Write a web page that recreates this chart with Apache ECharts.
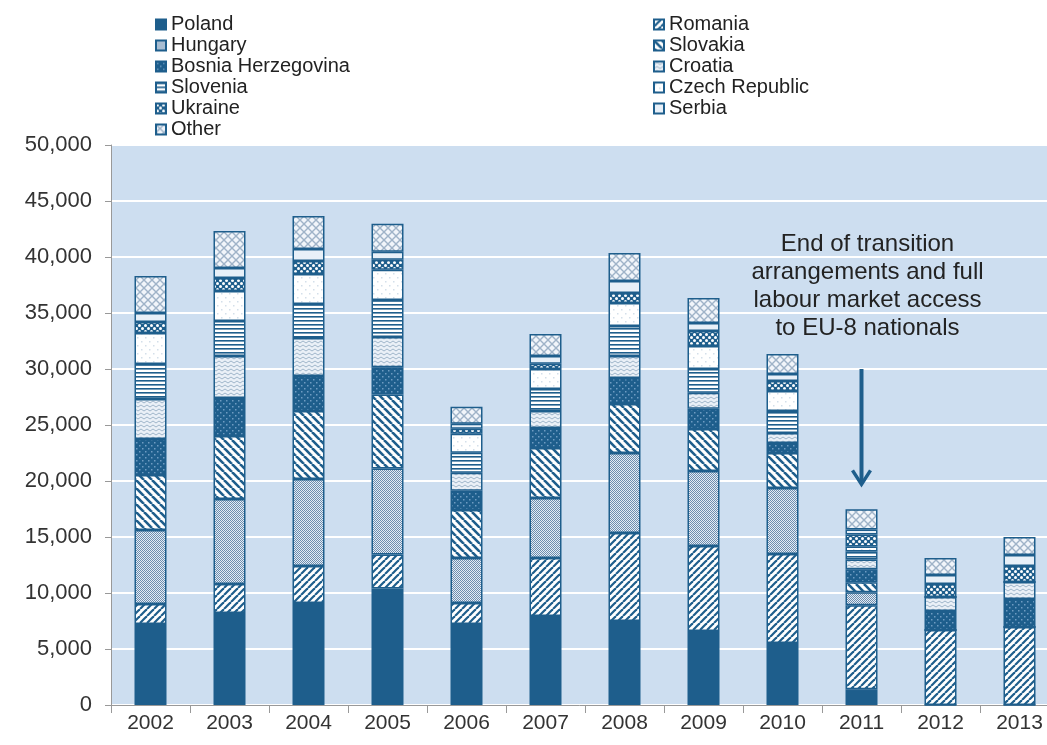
<!DOCTYPE html>
<html>
<head>
<meta charset="utf-8">
<script src="https://cdn.jsdelivr.net/npm/echarts@6/dist/echarts.min.js"></script>
<style>
  html, body { margin: 0; padding: 0; background: #fff; }
  #main { width: 1047px; height: 745px; }
</style>
</head>
<body>
<div id="main"></div>
<script>
// data
const years = ['2002', '2003', '2004', '2005', '2006', '2007', '2008', '2009', '2010', '2011', '2012', '2013']
const yTicks = [0, 5000, 10000, 15000, 20000, 25000, 30000, 35000, 40000, 45000, 50000]

const poland   = [7230, 8210, 9110, 10400, 7230, 7950, 7500, 6610, 5540, 1400, 0, 0]
const romania  = [1790, 2590, 3300, 3040, 1880, 5180, 7860, 7590, 7950, 7500, 6700, 6960]
const hungary  = [6610, 7590, 7770, 7680, 4020, 5360, 7140, 6700, 5890, 1160, 0, 0]
const slovakia = [4910, 5630, 6070, 6610, 4290, 4460, 4380, 3750, 3130, 890, 0, 0]
const bosnia   = [3210, 3390, 3130, 2430, 1700, 1790, 2320, 1790, 890, 1160, 1700, 2500]
const croatia  = [3570, 3750, 3390, 2700, 1610, 1520, 1960, 1430, 890, 890, 1250, 1520]
const slovenia = [3130, 3130, 3040, 3300, 1790, 1960, 2680, 2140, 1960, 710, 0, 0]
const czech    = [2770, 2680, 2680, 2700, 1700, 1790, 2050, 2050, 1790, 450, 0, 0]
const ukraine  = [980, 1160, 1160, 900, 450, 450, 890, 1340, 890, 1070, 1160, 1430]
const serbia   = [800, 890, 1070, 700, 450, 710, 1070, 710, 630, 450, 800, 980]
const other    = [3300, 3300, 2950, 2500, 1520, 1960, 2500, 2230, 1790, 1790, 1520, 1610]

const DARK = '#1e5e8c'
const FONT = '"Liberation Sans", Arial, sans-serif'

// small canvas tiles used as fill patterns
function tile(w, h, draw) {
  const c = document.createElement('canvas')
  c.width = w
  c.height = h
  const g = c.getContext('2d')
  draw(g, w, h)
  return { image: c, repeat: 'repeat' }
}
function diag(up, size, lw, bg) {
  return tile(size, size, (g, w, h) => {
    g.fillStyle = bg
    g.fillRect(0, 0, w, h)
    g.strokeStyle = DARK
    g.lineWidth = lw
    for (const k of [-w, 0, w]) {
      g.beginPath()
      if (up) { g.moveTo(k, h); g.lineTo(k + w, 0) } else { g.moveTo(k, 0); g.lineTo(k + w, h) }
      g.stroke()
    }
  })
}

const patRomania = diag(true, 7, 2.2, '#ffffff')
const patSlovakia = diag(false, 8, 2.6, '#ffffff')
const patHungary = tile(2, 2, (g) => {
  g.fillStyle = '#e4ecf5'; g.fillRect(0, 0, 2, 2)
  g.fillStyle = '#6d8eaf'; g.fillRect(0, 0, 1, 1); g.fillRect(1, 1, 1, 1)
})
const patBosnia = tile(6, 6, (g) => {
  g.fillStyle = DARK; g.fillRect(0, 0, 6, 6)
  g.fillStyle = '#6f9cc2'; g.fillRect(1, 1, 1.5, 1.5); g.fillRect(4, 4, 1.5, 1.5)
})
const patCroatia = tile(6, 4, (g) => {
  g.fillStyle = '#eaf0f7'; g.fillRect(0, 0, 6, 4)
  g.strokeStyle = '#9fb5ca'; g.lineWidth = 1
  g.beginPath(); g.moveTo(0, 3); g.lineTo(3, 1); g.lineTo(6, 3); g.stroke()
})
const patSlovenia = tile(4, 4, (g) => {
  g.fillStyle = '#ffffff'; g.fillRect(0, 0, 4, 4)
  g.fillStyle = DARK; g.fillRect(0, 0, 4, 1.6)
})
const patCzech = tile(8, 8, (g) => {
  g.fillStyle = '#ffffff'; g.fillRect(0, 0, 8, 8)
  g.fillStyle = '#d4dfea'; g.fillRect(1, 1, 1.5, 1.5); g.fillRect(5, 5, 1.5, 1.5)
})
const patUkraine = tile(6, 6, (g) => {
  g.fillStyle = DARK; g.fillRect(0, 0, 6, 6)
  g.fillStyle = '#ffffff'
  g.beginPath(); g.arc(1.5, 1.5, 1.5, 0, Math.PI * 2); g.fill()
  g.beginPath(); g.arc(4.5, 4.5, 1.5, 0, Math.PI * 2); g.fill()
})
const patSerbia = '#e8f0f8'
const patOther = tile(8, 8, (g) => {
  g.fillStyle = '#f1f5fa'; g.fillRect(0, 0, 8, 8)
  g.strokeStyle = '#9fb3c8'; g.lineWidth = 1.4
  for (const k of [-8, 0, 8]) {
    g.beginPath(); g.moveTo(k, 8); g.lineTo(k + 8, 0); g.stroke()
    g.beginPath(); g.moveTo(k, 0); g.lineTo(k + 8, 8); g.stroke()
  }
})

const seriesDefs = [
  ['Poland', poland, DARK],
  ['Romania', romania, patRomania],
  ['Hungary', hungary, patHungary],
  ['Slovakia', slovakia, patSlovakia],
  ['Bosnia Herzegovina', bosnia, patBosnia],
  ['Croatia', croatia, patCroatia],
  ['Slovenia', slovenia, patSlovenia],
  ['Czech Republic', czech, patCzech],
  ['Ukraine', ukraine, patUkraine],
  ['Serbia', serbia, patSerbia],
  ['Other', other, patOther]
]

const chart = echarts.init(document.getElementById('main'))

const legendBase = {
  orient: 'vertical',
  top: 14,
  padding: 0,
  itemGap: 0,
  itemWidth: 10,
  itemHeight: 10,
  icon: 'rect',
  selectedMode: false,
  textStyle: { fontFamily: FONT, fontSize: 20, lineHeight: 21, color: '#222' }
}

const option = {
  animation: false,
  legend: [
    Object.assign({}, legendBase, { left: 155, data: ['Poland', 'Hungary', 'Bosnia Herzegovina', 'Slovenia', 'Ukraine', 'Other'] }),
    Object.assign({}, legendBase, { left: 653, data: ['Romania', 'Slovakia', 'Croatia', 'Czech Republic', 'Serbia'] })
  ],
  grid: {
    left: 111,
    top: 145,
    right: -12,
    height: 560,
    outerBoundsMode: 'none',
    show: true,
    backgroundColor: '#cddef0',
    borderWidth: 0
  },
  xAxis: {
    type: 'category',
    data: years,
    axisLine: { lineStyle: { color: '#999', width: 1 } },
    axisTick: { show: true, interval: 0, length: 8, lineStyle: { color: '#999' } },
    axisLabel: { fontFamily: FONT, fontSize: 21, color: '#333', margin: 8 }
  },
  yAxis: {
    type: 'value',
    min: yTicks[0],
    max: yTicks[yTicks.length - 1],
    interval: 5000,
    axisLine: { show: true, lineStyle: { color: '#999', width: 1 } },
    axisTick: { show: true, length: 6, lineStyle: { color: '#999' } },
    splitLine: { lineStyle: { color: '#ffffff', width: 2 } },
    axisLabel: {
      fontFamily: FONT, fontSize: 22, color: '#333', margin: 19,
      formatter: (v) => v.toLocaleString('en-US')
    }
  },
  series: seriesDefs.map(([name, data, fill]) => ({
    name: name,
    type: 'bar',
    stack: 'total',
    barWidth: 32,
    data: data,
    emphasis: { disabled: true },
    itemStyle: { color: fill, borderColor: DARK, borderWidth: 1.5 }
  }))
}

chart.setOption(option)

// annotation: arrow pointing down at 2011 and the note above it
const ax = chart.convertToPixel({ xAxisIndex: 0 }, '2011')
const aTop = chart.convertToPixel({ yAxisIndex: 0 }, 30000)
const aBot = chart.convertToPixel({ yAxisIndex: 0 }, 19700)
const tTop = chart.convertToPixel({ yAxisIndex: 0 }, 42400)
chart.setOption({
  graphic: [
    {
      type: 'line',
      shape: { x1: ax, y1: aTop, x2: ax, y2: aBot - 1 },
      style: { stroke: DARK, lineWidth: 4 }
    },
    {
      type: 'polyline',
      shape: { points: [[ax - 9, aBot - 14], [ax, aBot], [ax + 9, aBot - 14]] },
      style: { stroke: DARK, lineWidth: 3.5, fill: null }
    },
    {
      type: 'text',
      x: ax + 6,
      y: tTop,
      style: {
        text: 'End of transition\narrangements and full\nlabour market access\nto EU-8 nationals',
        fontFamily: FONT,
        fontSize: 24,
        lineHeight: 28,
        fill: '#222',
        align: 'center',
        verticalAlign: 'top'
      }
    }
  ]
})
</script>
</body>
</html>
